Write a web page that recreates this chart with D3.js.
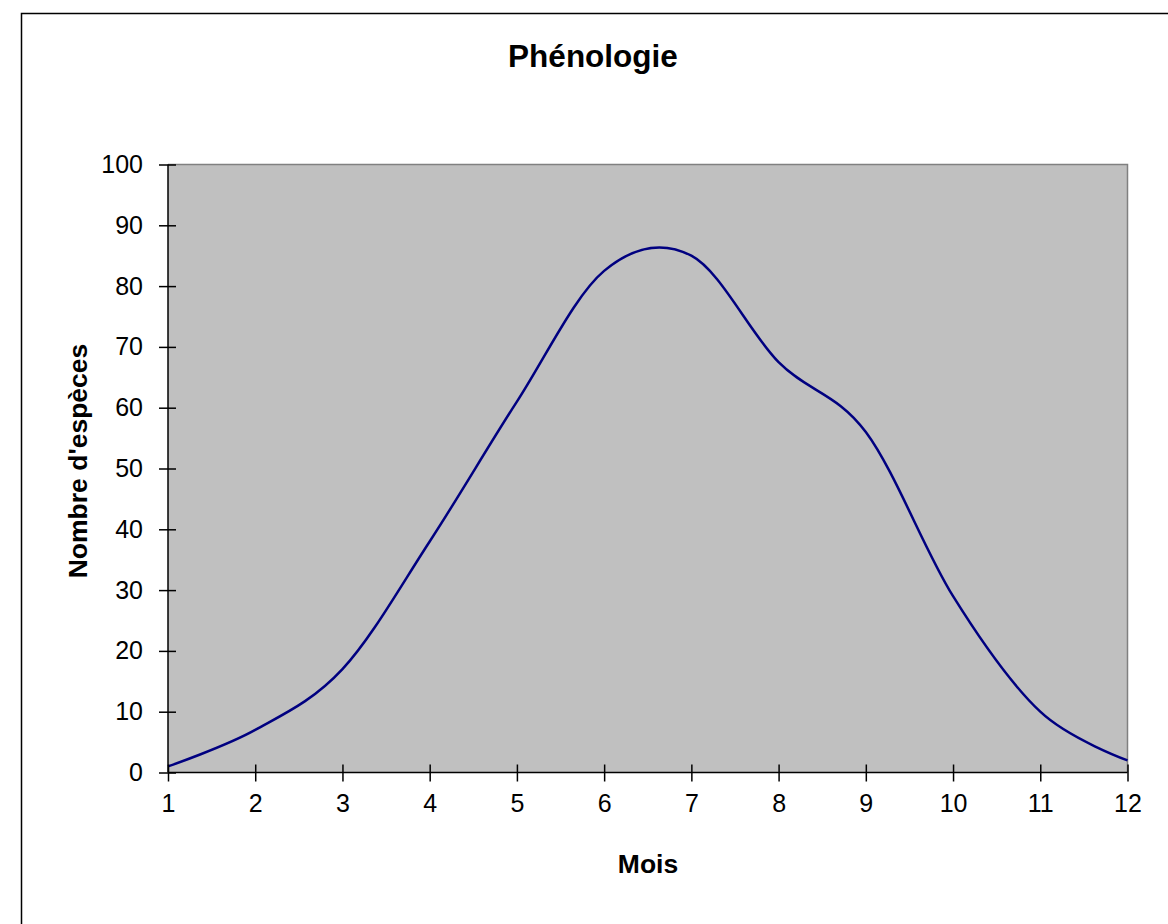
<!DOCTYPE html>
<html><head><meta charset="utf-8">
<script src="https://cdn.jsdelivr.net/npm/d3@7"></script>
<style>body{margin:0;background:#fff}svg{display:block}</style>
</head><body>
<script>
const months = [1,2,3,4,5,6,7,8,9,10,11,12];
const especes = [1,7,17,38,61,82.5,85,67.5,56,29,10,2];
const yTicks = [0,10,20,30,40,50,60,70,80,90,100];
const title = "Phénologie";
const xTitle = "Mois";
const yTitle = "Nombre d'espèces";

const W = 1168, H = 924;
const svg = d3.select("body").append("svg").attr("width", W).attr("height", H);
const font = "'Liberation Sans', Arial, sans-serif";

svg.append("rect").attr("x",21.5).attr("y",13.5).attr("width",W).attr("height",H)
  .attr("fill","#fff").attr("stroke","#000").attr("stroke-width",1.5);

const L = 168, R = 1127.5, T = 164.5, B = 772.5;
const x = d3.scaleLinear().domain([1,12]).range([L,R]);
const y = d3.scaleLinear().domain([0,100]).range([B,T]);

svg.append("rect").attr("x",L).attr("y",T).attr("width",R-L).attr("height",B-T)
  .attr("fill","#c0c0c0");
svg.append("path").attr("d",`M${L},${T}H${R}V${B}`).attr("fill","none")
  .attr("stroke","#808080").attr("stroke-width",1.5);

const line = d3.line().x((d,i)=>x(months[i])).y(d=>y(d)).curve(d3.curveCardinal.tension(0));
svg.append("path").datum(especes).attr("d",line).attr("fill","none")
  .attr("stroke","#000080").attr("stroke-width",2.5);

// Y axis
const gy = svg.append("g").attr("transform",`translate(${L},0)`)
  .call(d3.axisLeft(y).tickValues(yTicks).tickSize(9).tickPadding(16));
gy.selectAll(".tick line").attr("x2",-9).attr("x1",8).attr("stroke","#000").attr("stroke-width",1.5);
gy.select(".domain").attr("stroke","#000").attr("stroke-width",1.5).attr("d",`M0,${B}V${T}`);
gy.selectAll("text").attr("font-family",font).attr("font-size",25).attr("fill","#000");

// X axis
const gx = svg.append("g").attr("transform",`translate(0,${B})`)
  .call(d3.axisBottom(x).tickValues(months).tickFormat(d3.format("d")).tickSize(9).tickPadding(13));
gx.selectAll(".tick line").attr("y1",-8).attr("y2",9).attr("stroke","#000").attr("stroke-width",1.5);
gx.select(".domain").attr("stroke","#000").attr("stroke-width",1.5).attr("d",`M${L},0H${R}`);
gx.selectAll("text").attr("font-family",font).attr("font-size",25).attr("fill","#000");

svg.append("text").attr("x",593).attr("y",67).attr("text-anchor","middle")
  .attr("font-family",font).attr("font-weight","bold").attr("font-size",31.5).text(title);
svg.append("text").attr("x",648).attr("y",873).attr("text-anchor","middle")
  .attr("font-family",font).attr("font-weight","bold").attr("font-size",26.5).text(xTitle);
svg.append("text").attr("transform","translate(87,461) rotate(-90)").attr("text-anchor","middle")
  .attr("font-family",font).attr("font-weight","bold").attr("font-size",26.5).text(yTitle);
</script>
</body></html>
